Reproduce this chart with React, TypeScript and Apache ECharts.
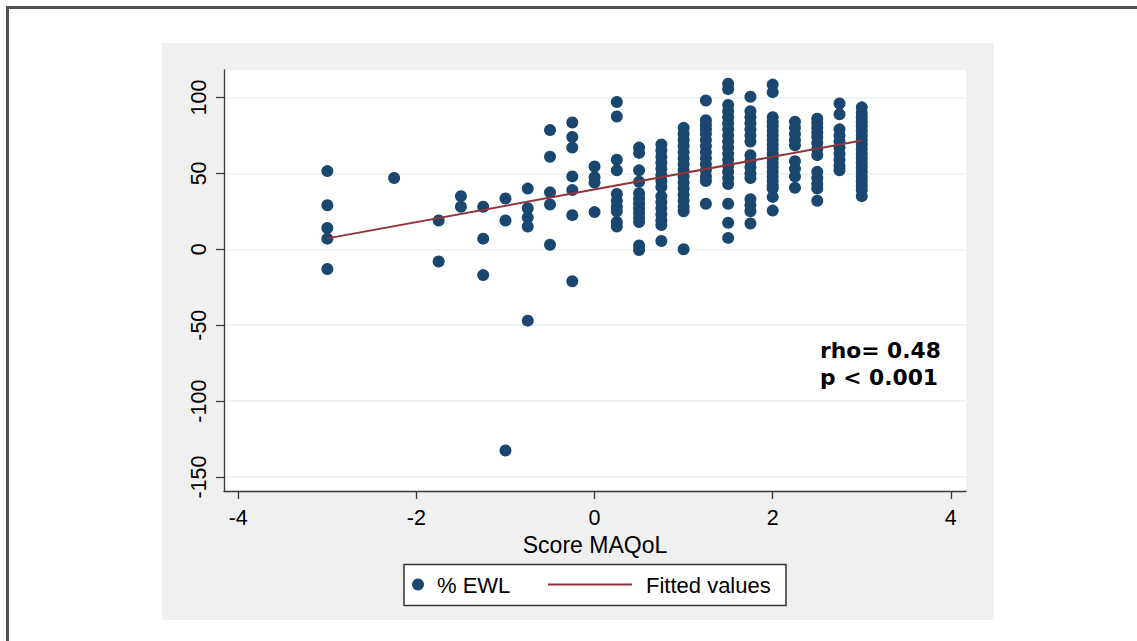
import React, { useEffect, useRef } from "react";
import * as echarts from "echarts";

// MAQoL score levels (x) and % EWL values observed at each level (y)
const SCORE_LEVELS = [-3, -2.25, -1.75, -1.5, -1.25, -1, -0.75, -0.5, -0.25, 0, 0.25, 0.5, 0.75, 1, 1.25, 1.5, 1.75, 2, 2.25, 2.5, 2.75, 3];

const ewlAtM300 = [51.5, 29, 14, 7, -13];
const ewlAtM225 = [47];
const ewlAtM175 = [19, -8];
const ewlAtM150 = [35, 28];
const ewlAtM125 = [28, 7, -17];
const ewlAtM100 = [33.5, 19, -132.5];
const ewlAtM075 = [40, 27, 21, 15, -47];
const ewlAtM050 = [78.5, 61, 37.5, 29.5, 3];
const ewlAtM025 = [83.5, 74, 67, 48, 39, 22.5, -21];
const ewlAtP000 = [54.5, 47.5, 44, 24.5];
const ewlAtP025 = [97, 87.5, 59, 52, 36.5, 32, 28, 25, 18, 15];
const ewlAtP050 = [67, 63.5, 52, 44.5, 37, 33.5, 30, 27, 24, 21, 18, 2.5, -0.5];
const ewlAtP075 = [69, 65, 61, 57, 53, 49, 45, 41, 35, 31, 27, 23, 19, 16, 5.5];
const ewlAtP100 = [80, 76, 72, 68, 64, 60, 56, 52, 48, 44, 40, 36, 32, 28, 25, 0];
const ewlAtP125 = [98, 85, 82, 79, 76, 72, 68, 64, 60, 56, 52, 48, 45, 30];
const ewlAtP150 = [109, 105.5, 95, 91, 87, 83, 79, 75, 71, 67, 63, 59, 55, 51, 47, 43, 30, 17.5, 7.5];
const ewlAtP175 = [100.5, 91, 87, 83, 79, 75, 71, 62, 58, 54, 50, 47, 33, 29, 25, 17];
const ewlAtP200 = [108.5, 103.5, 87, 84, 81, 78, 75, 72, 69, 66, 63, 60, 57, 54, 51, 48, 45, 42, 40, 34.5, 25.5];
const ewlAtP225 = [84, 80, 76, 72, 68.5, 58, 53, 48, 40.5];
const ewlAtP250 = [86, 83, 80, 77, 74, 70, 66, 62, 51, 47, 43, 40, 32];
const ewlAtP275 = [96, 89, 79, 75, 71, 67, 63, 59, 55, 52];
const ewlAtP300 = [93.5, 90, 87, 84, 81, 78, 75, 72, 69, 66, 63, 60, 57, 54, 51, 48, 45, 42, 39, 35];

const EWL_COLUMNS = [
  ewlAtM300, ewlAtM225, ewlAtM175, ewlAtM150, ewlAtM125, ewlAtM100, ewlAtM075, ewlAtM050,
  ewlAtM025, ewlAtP000, ewlAtP025, ewlAtP050, ewlAtP075, ewlAtP100, ewlAtP125, ewlAtP150,
  ewlAtP175, ewlAtP200, ewlAtP225, ewlAtP250, ewlAtP275, ewlAtP300,
];

// Fitted values line endpoints
const FIT_X = [-3, 3];
const FIT_Y = [7.2, 71.7];

const X_TICKS = [-4, -2, 0, 2, 4];
const Y_TICKS = [-150, -100, -50, 0, 50, 100];

const SERIES_NAMES = ["% EWL", "Fitted values"];
const ANNOTATION = ["rho= 0.48", "p < 0.001"];
const X_TITLE = "Score MAQoL";

const NAVY = "#1a476f";
const MAROON = "#90353b";
const AXIS = "#3a3a3a";
const FONT = '"Liberation Sans", Arial, sans-serif';

export default function App() {
  const ref = useRef<HTMLDivElement>(null);

  useEffect(() => {
    if (!ref.current) return;
    const chart = echarts.init(ref.current, null, { renderer: "svg" });
    const points: number[][] = [];
    SCORE_LEVELS.forEach((x, i) => {
      EWL_COLUMNS[i].forEach((y) => points.push([x, y]));
    });
    const fit = FIT_X.map((x, i) => [x, FIT_Y[i]]);

    chart.setOption({
      animation: false,
      backgroundColor: "#ffffff",
      textStyle: { fontFamily: FONT },
      grid: { left: 224, top: 70, right: 171, bottom: 150, show: false },
      xAxis: {
        type: "value",
        min: -4.16,
        max: 4.17,
        axisLine: { show: true, onZero: false, lineStyle: { color: AXIS, width: 1.3 } },
        axisTick: { show: true, length: 8, customValues: X_TICKS, lineStyle: { color: AXIS, width: 1.3 } },
        axisLabel: { customValues: X_TICKS, margin: 16, fontSize: 21.5, color: "#000", fontFamily: FONT },
        splitLine: { show: false },
        name: X_TITLE,
        nameLocation: "middle",
        nameGap: 31,
        nameTextStyle: { fontSize: 23, color: "#000", fontFamily: FONT },
      },
      yAxis: {
        type: "value",
        min: -159.2,
        max: 118.1,
        axisLine: { show: true, onZero: false, lineStyle: { color: AXIS, width: 1.3 } },
        axisTick: { show: true, length: 8, customValues: Y_TICKS, lineStyle: { color: AXIS, width: 1.3 } },
        axisLabel: { customValues: Y_TICKS, rotate: 90, margin: 14, fontSize: 21.5, color: "#000", fontFamily: FONT },
        splitLine: { show: true, lineStyle: { color: "#eaf2f3", width: 1.6 } },
      },
      series: [
        {
          name: SERIES_NAMES[0],
          type: "scatter",
          data: points,
          symbol: "circle",
          symbolSize: 12,
          itemStyle: { color: NAVY, opacity: 1 },
          z: 3,
        },
        {
          name: SERIES_NAMES[1],
          type: "line",
          data: fit,
          symbol: "none",
          lineStyle: { color: MAROON, width: 2 },
          z: 4,
        },
      ],
      graphic: [
        {
          type: "rect",
          z: -30,
          shape: { x: 7.5, y: 7.5, width: 1145, height: 660 },
          style: { fill: "#ffffff", stroke: "#505050", lineWidth: 3 },
        },
        {
          type: "rect",
          z: -20,
          shape: { x: 162, y: 43, width: 832, height: 577 },
          style: { fill: "#f0f0f0" },
        },
        {
          type: "rect",
          z: -10,
          shape: { x: 224, y: 70, width: 742, height: 421 },
          style: { fill: "#ffffff" },
        },
        {
          type: "rect",
          z: 10,
          shape: { x: 404, y: 564.5, width: 382, height: 41 },
          style: { fill: "#ffffff", stroke: "#333333", lineWidth: 1.5 },
        },
        {
          type: "circle",
          z: 11,
          shape: { cx: 418, cy: 584.5, r: 6 },
          style: { fill: NAVY },
        },
        {
          type: "text",
          z: 11,
          x: 437,
          y: 585.5,
          style: { text: SERIES_NAMES[0], fontSize: 22, fontFamily: FONT, fill: "#000", verticalAlign: "middle" },
        },
        {
          type: "line",
          z: 11,
          shape: { x1: 548, y1: 584.5, x2: 632, y2: 584.5 },
          style: { stroke: MAROON, lineWidth: 2 },
        },
        {
          type: "text",
          z: 11,
          x: 646,
          y: 585.5,
          style: { text: SERIES_NAMES[1], fontSize: 22, fontFamily: FONT, fill: "#000", verticalAlign: "middle" },
        },
        {
          type: "text",
          z: 11,
          x: 820,
          y: 350,
          style: { text: ANNOTATION[0], fontSize: 21.8, fontWeight: "bold", fontFamily: '"DejaVu Sans", sans-serif', fill: "#000", verticalAlign: "middle" },
        },
        {
          type: "text",
          z: 11,
          x: 820,
          y: 377,
          style: { text: ANNOTATION[1], fontSize: 21.8, fontWeight: "bold", fontFamily: '"DejaVu Sans", sans-serif', fill: "#000", verticalAlign: "middle" },
        },
      ],
    });
    return () => chart.dispose();
  }, []);

  return (
    <div
      ref={ref}
      style={{ position: "fixed", left: 0, top: 0, width: 1137, height: 641, background: "#fff" }}
    />
  );
}
